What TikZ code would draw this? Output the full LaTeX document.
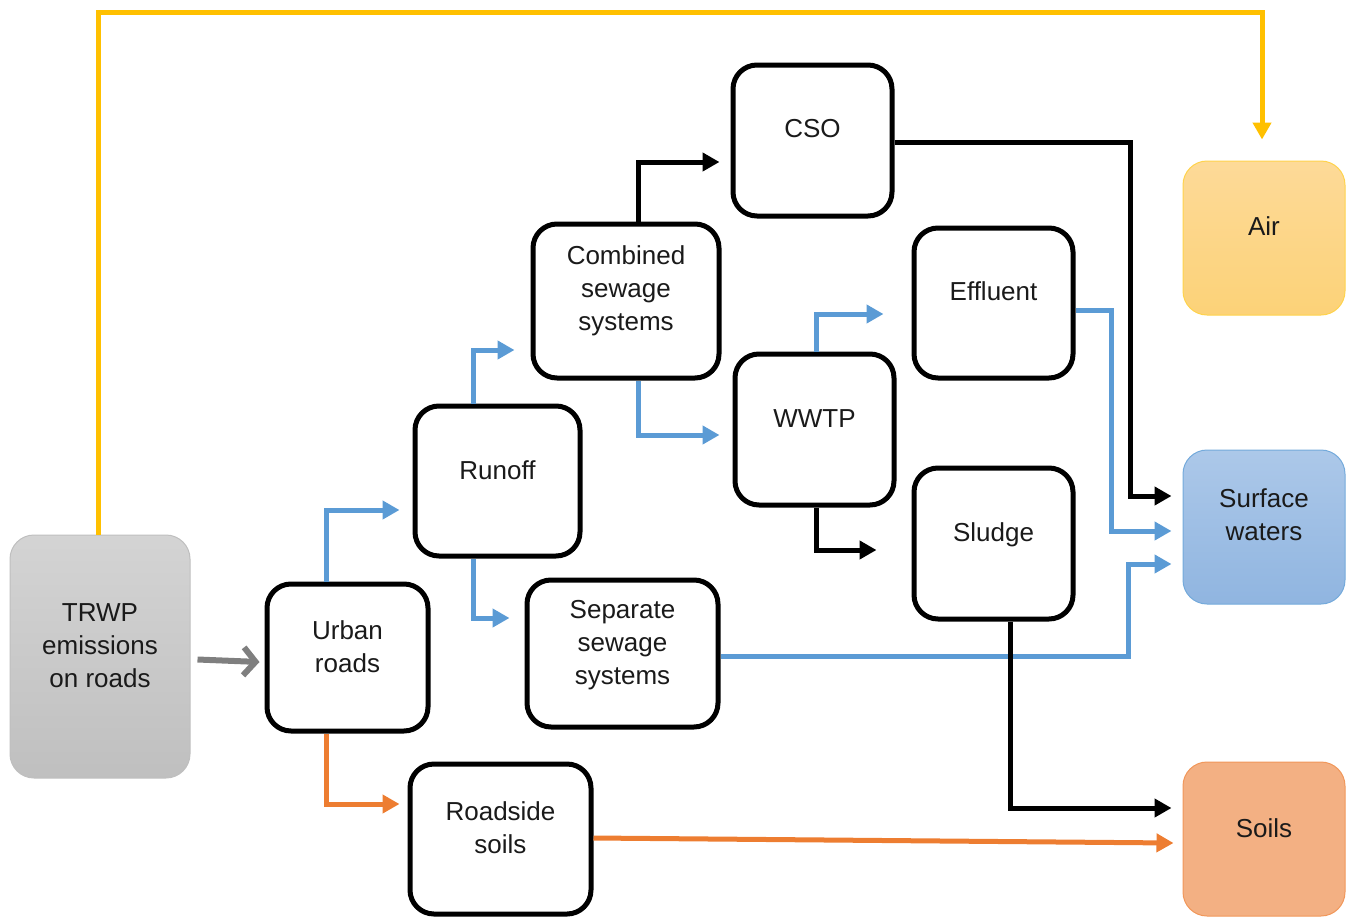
\documentclass[tikz,border=0pt]{standalone}
\usepackage{fontspec}
\setmainfont{Liberation Sans}
\usetikzlibrary{arrows.meta,calc}
\definecolor{cblue}{HTML}{5B9BD5}
\definecolor{corange}{HTML}{ED7D31}
\definecolor{cyellow}{HTML}{FFC000}
\definecolor{cgray}{HTML}{7F7F7F}
\definecolor{txt}{HTML}{1A1A1A}
\tikzset{
  box/.style={draw=black, line width=5pt, rounded corners=24pt, fill=white},
  lbl/.style={align=center, text=txt, font=\fontsize{26}{33}\selectfont, inner sep=0pt},
  conn/.style={line width=5pt, -{Triangle[length=17pt,width=18pt]}},
  blk/.style={conn, draw=black},
  blu/.style={conn, draw=cblue},
  org/.style={conn, draw=corange},
  yel/.style={conn, draw=cyellow},
}
\begin{document}
\begin{tikzpicture}[x=1pt,y=-1pt]
\useasboundingbox (0,0) rectangle (1349,916);
% boxes
\node[draw=black!25, line width=1pt, rounded corners=24pt, top color=black!17, bottom color=black!25, minimum width=180pt, minimum height=243pt] (trwp) at (100,656.5) {};
\node[box, minimum width=161pt, minimum height=147pt] (urban) at (347.5,657.5) {};
\node[box, minimum width=165pt, minimum height=150pt] (runoff) at (497.5,481) {};
\node[box, minimum width=186pt, minimum height=154pt] (combined) at (626,301) {};
\node[box, minimum width=159pt, minimum height=151pt] (cso) at (812.5,140.5) {};
\node[box, minimum width=159pt, minimum height=151pt] (wwtp) at (814.5,429.5) {};
\node[box, minimum width=159pt, minimum height=150pt] (effluent) at (993.5,303) {};
\node[box, minimum width=159pt, minimum height=151pt] (sludge) at (993.5,543.5) {};
\node[box, minimum width=191pt, minimum height=147pt] (separate) at (622.5,653.5) {};
\node[box, minimum width=181pt, minimum height=150pt] (roadside) at (500.5,839) {};
\node[draw=cyellow!70, line width=1pt, rounded corners=24pt, top color={rgb,255:red,253;green,218;blue,152}, bottom color={rgb,255:red,252;green,210;blue,120}, minimum width=162pt, minimum height=154pt] (air) at (1264,238) {};
\node[draw=cblue!85, line width=1pt, rounded corners=24pt, top color={rgb,255:red,172;green,200;blue,233}, bottom color={rgb,255:red,144;green,181;blue,224}, minimum width=162pt, minimum height=154pt] (surface) at (1264,527) {};
\node[draw=corange!80, line width=1pt, rounded corners=24pt, fill={rgb,255:red,243;green,176;blue,131}, minimum width=162pt, minimum height=154pt] (soils) at (1264,839) {};
% labels
\node[lbl] (trwp-t) at ([yshift=11pt]trwp.center) {TRWP\\emissions\\on roads};
\node[lbl] (urban-t) at ([yshift=11pt]urban.center) {Urban\\roads};
\node[lbl] (runoff-t) at ([yshift=11pt]runoff.center) {Runoff};
\node[lbl] (combined-t) at ([yshift=10pt]combined.center) {Combined\\sewage\\systems};
\node[lbl] (cso-t) at ([yshift=12pt]cso.center) {CSO};
\node[lbl] (wwtp-t) at ([yshift=11pt]wwtp.center) {WWTP};
\node[lbl] (effluent-t) at ([yshift=12pt]effluent.center) {Effluent};
\node[lbl] (sludge-t) at ([yshift=9pt]sludge.center) {Sludge};
\node[lbl] (separate-t) at ([yshift=8pt]separate.center) {Separate\\sewage\\systems};
\node[lbl] (roadside-t) at ([yshift=11pt]roadside.center) {Roadside\\soils};
\node[lbl] (air-t) at ([yshift=12pt]air.center) {Air};
\node[lbl] (surface-t) at ([yshift=12pt]surface.center) {Surface\\waters};
\node[lbl] (soils-t) at ([yshift=11pt]soils.center) {Soils};
% connectors
\coordinate (ytop) at (0,12);
\draw[yel] ([xshift=-2pt]trwp.north) -- ([xshift=-2pt]trwp.north |- ytop) -| ([xshift=-2pt,yshift=21pt]air.north);
\draw[line width=6pt, draw=cgray, -{Straight Barb[length=12pt,width=28pt]}] ([xshift=7pt,yshift=-3pt]trwp.east) -- ([xshift=-5pt,yshift=-4.5pt]urban.west);
\draw[blu] ([xshift=-21.5pt]urban.north) |- ([xshift=-13pt,yshift=-29pt]runoff.west);
\draw[org] ([xshift=-21.5pt]urban.south) |- ([xshift=-8pt,yshift=35pt]roadside.west);
\draw[blu] ([xshift=-24.5pt]runoff.north) |- ([xshift=-16pt,yshift=-49pt]combined.west);
\draw[blu] ([xshift=-24.5pt]runoff.south) |- ([xshift=-15pt,yshift=35.5pt]separate.west);
\draw[blk] ([xshift=12pt]combined.north) |- ([xshift=-11pt,yshift=-21.5pt]cso.west);
\draw[blu] ([xshift=12pt]combined.south) |- ([xshift=-13pt,yshift=-5.5pt]wwtp.west);
\draw[blu] ([xshift=1.5pt]wwtp.north) |- ([xshift=-28pt,yshift=-11pt]effluent.west);
\draw[blk] ([xshift=1.5pt]wwtp.south) |- ([xshift=-35pt,yshift=-6.5pt]sludge.west);
\draw[blk] ([yshift=-1.5pt]cso.east) -- ++(236,0) |- ([xshift=-11pt,yshift=31pt]surface.west);
\draw[blu] ([yshift=-7pt]effluent.east) -- ++(36,0) |- ([xshift=-11pt,yshift=-4pt]surface.west);
\draw[blu] ([yshift=-2.5pt]separate.east) -- ++(408,0) |- ([xshift=-11pt,yshift=-37pt]surface.west);
\draw[blk] ([xshift=16.5pt]sludge.south) |- ([xshift=-11pt,yshift=31pt]soils.west);
\draw[org] ([yshift=1pt]roadside.east) -- ([xshift=-9pt,yshift=-4pt]soils.west);
\end{tikzpicture}
\end{document}
